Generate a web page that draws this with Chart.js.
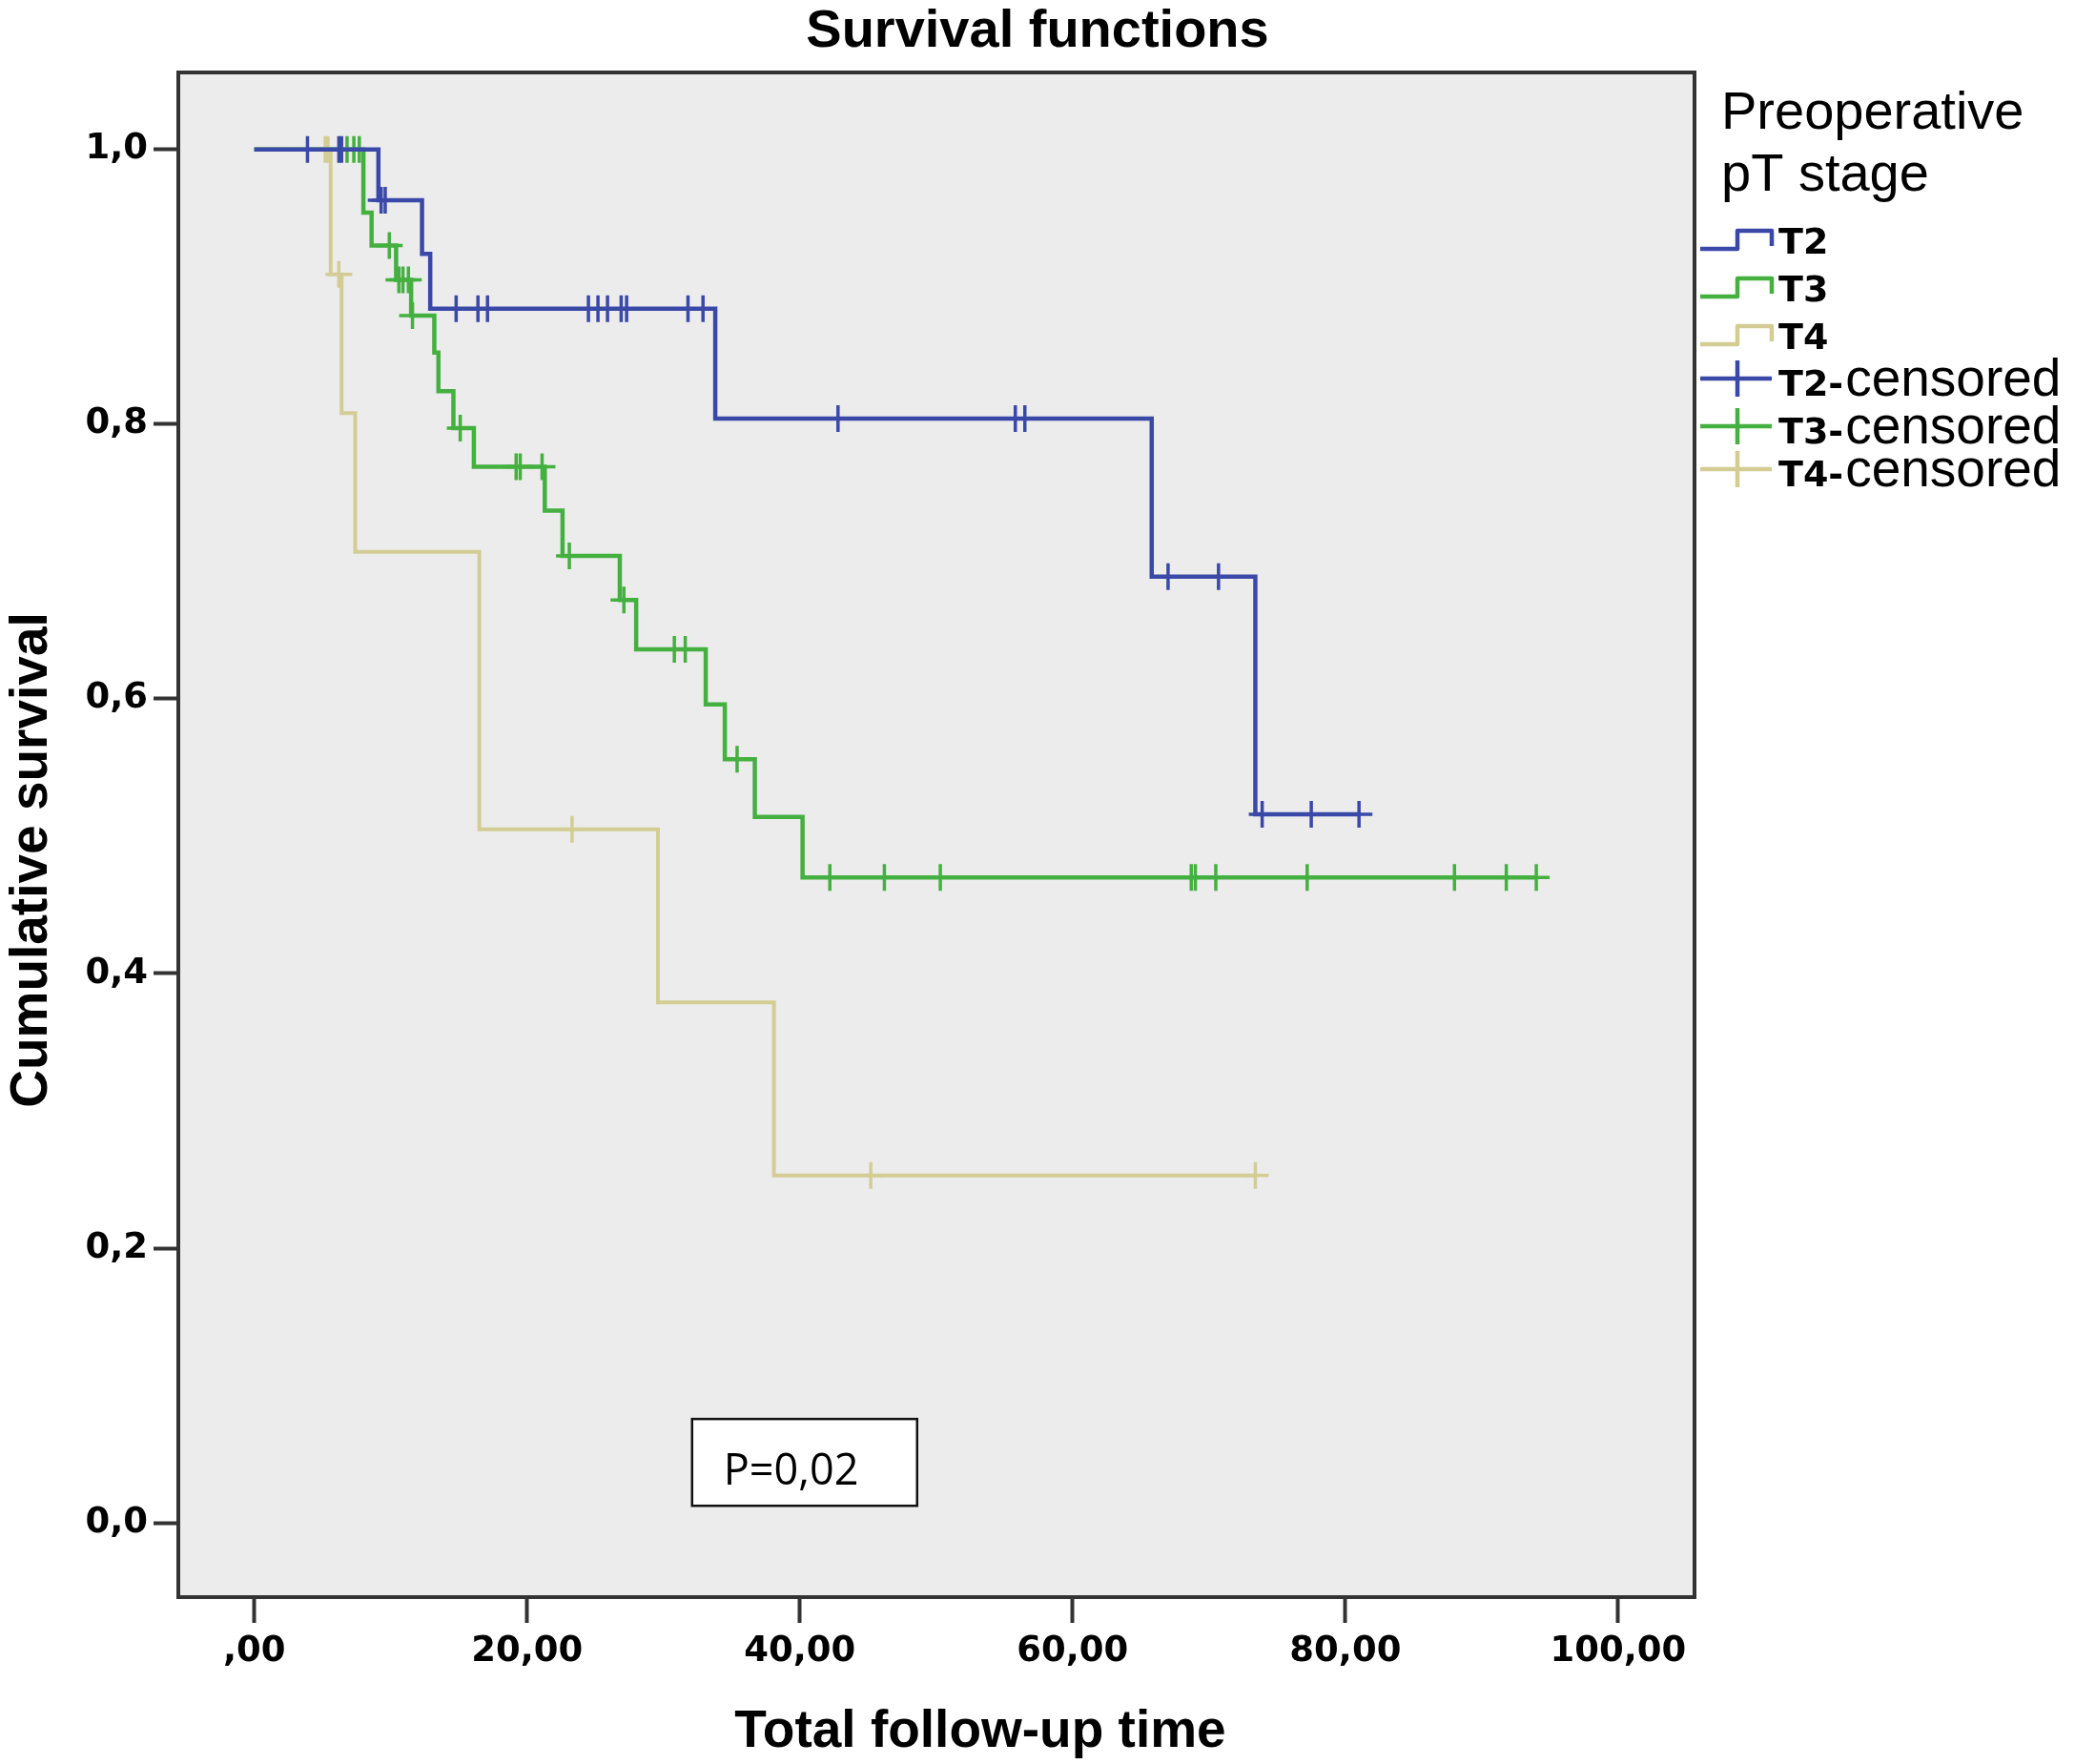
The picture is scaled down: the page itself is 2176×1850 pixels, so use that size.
<!DOCTYPE html>
<html>
<head>
<meta charset="utf-8">
<script src="https://cdn.jsdelivr.net/npm/chart.js@4.4.1/dist/chart.umd.min.js"></script>
<style>
  html, body { margin: 0; padding: 0; background: #ffffff; }
  #wrap { width: 2176px; height: 1850px; position: relative; }
</style>
</head>
<body>
<div id="wrap"><canvas id="c" width="2176" height="1850"></canvas></div>
<script>
// ---------------- DATA ----------------
const groups = ['T2', 'T3', 'T4'];

// T2: event times and survival after each step, censored times
const T2_eventTimes = [9.1, 12.3, 12.9, 33.8, 65.8, 73.4];
const T2_survival   = [0.963, 0.924, 0.884, 0.804, 0.689, 0.516];
const T2_censored   = [3.9, 6.2, 6.4, 9.3, 9.6, 14.8, 16.4, 17.1, 24.5, 25.2, 25.9, 26.9, 27.3,
                       31.8, 32.9, 42.8, 55.8, 56.5, 67.0, 70.7, 73.9, 77.5, 81.0];

// T3
const T3_eventTimes = [8.0, 8.6, 10.4, 11.5, 13.2, 13.5, 14.6, 16.1, 21.3, 22.6, 26.8, 28.0, 33.1, 34.5, 36.7, 40.2];
const T3_survival   = [0.954, 0.930, 0.905, 0.879, 0.852, 0.824, 0.797, 0.769, 0.737, 0.704, 0.672, 0.636, 0.596, 0.556, 0.514, 0.470];
const T3_censored   = [6.8, 7.3, 7.7, 9.9, 10.6, 10.9, 11.3, 11.6, 15.1, 19.2, 19.5, 21.1, 23.1, 27.1,
                       30.8, 31.6, 35.4, 42.2, 46.2, 50.3, 68.7, 69.0, 70.5, 77.2, 88.0, 91.8, 94.0];

// T4
const T4_eventTimes = [5.6, 6.4, 7.4, 16.5, 29.6, 38.1];
const T4_survival   = [0.909, 0.808, 0.707, 0.505, 0.379, 0.253];
const T4_censored   = [5.2, 5.4, 6.2, 23.3, 45.2, 73.4];

// Axis ticks
const xTickValues = [0, 20, 40, 60, 80, 100];
const xTickLabels = [',00', '20,00', '40,00', '60,00', '80,00', '100,00'];
const yTickValues = [0, 0.2, 0.4, 0.6, 0.8, 1.0];
const yTickLabels = ['0,0', '0,2', '0,4', '0,6', '0,8', '1,0'];

const chartTitle = 'Survival functions';
const xTitle = 'Total follow-up time';
const yTitle = 'Cumulative survival';
const legendTitle = ['Preoperative', 'pT stage'];
const pValueText = 'P=0,02';

// ---------------- STYLES ----------------
const colors = { T2: '#3a48a8', T3: '#44b040', T4: '#d3cd94' };
const lineWidths = { T2: 4.5, T3: 4.5, T4: 4 };

// ---------------- HELPERS ----------------
function survivalAt(times, surv, t) {
  let s = 1;
  for (let i = 0; i < times.length; i++) if (times[i] <= t) s = surv[i];
  return s;
}
function stepPoints(times, surv, censored) {
  const pts = [{ x: 0, y: 1 }];
  times.forEach((t, i) => pts.push({ x: t, y: surv[i] }));
  const end = Math.max(times[times.length - 1], ...censored);
  pts.push({ x: end, y: survivalAt(times, surv, end) });
  return pts;
}
function censorPoints(times, surv, censored) {
  return censored.map(t => ({ x: t, y: survivalAt(times, surv, t) }));
}

const series = {
  T2: { times: T2_eventTimes, surv: T2_survival, cens: T2_censored },
  T3: { times: T3_eventTimes, surv: T3_survival, cens: T3_censored },
  T4: { times: T4_eventTimes, surv: T4_survival, cens: T4_censored }
};

const datasets = [];
groups.forEach(g => {
  const s = series[g];
  datasets.push({
    label: g + '-censored',
    data: censorPoints(s.times, s.surv, s.cens),
    showLine: false,
    pointStyle: 'cross',
    pointRadius: 14,
    pointHoverRadius: 14,
    borderWidth: 3.5,
    pointBorderColor: colors[g],
    borderColor: colors[g],
    backgroundColor: colors[g]
  });
  datasets.push({
    label: g,
    data: stepPoints(s.times, s.surv, s.cens),
    showLine: true,
    stepped: true,
    pointRadius: 0,
    pointHoverRadius: 0,
    borderWidth: lineWidths[g],
    borderColor: colors[g],
    backgroundColor: colors[g],
    fill: false
  });
});

// ---------------- DECORATION PLUGIN ----------------
const decor = {
  id: 'decor',
  beforeDraw(chart) {
    const { ctx, chartArea: a } = chart;
    ctx.save();
    ctx.fillStyle = '#ececec';
    ctx.fillRect(a.left, a.top, a.right - a.left, a.bottom - a.top);
    ctx.restore();
  },
  afterDatasetsDraw(chart) {
    const { ctx, chartArea: a, scales } = chart;
    ctx.save();
    // P-value box (placed in data coordinates)
    const bx0 = scales.x.getPixelForValue(32.1), bx1 = scales.x.getPixelForValue(48.6);
    const by0 = scales.y.getPixelForValue(0.0757), by1 = scales.y.getPixelForValue(0.0125);
    ctx.fillStyle = '#ffffff';
    ctx.fillRect(bx0, by0, bx1 - bx0, by1 - by0);
    ctx.strokeStyle = '#111';
    ctx.lineWidth = 2.5;
    ctx.strokeRect(bx0, by0, bx1 - bx0, by1 - by0);
    ctx.fillStyle = '#000';
    ctx.font = '45px "Open Sans", "Liberation Sans", sans-serif';
    ctx.textAlign = 'left';
    ctx.textBaseline = 'alphabetic';
    ctx.fillText(pValueText, bx0 + 33, by0 + 69);
    // frame
    ctx.strokeStyle = '#333';
    ctx.lineWidth = 4;
    ctx.strokeRect(a.left, a.top, a.right - a.left, a.bottom - a.top);
    ctx.restore();
  },
  afterDraw(chart) {
    const { ctx } = chart;
    ctx.save();
    ctx.fillStyle = '#000';
    ctx.textBaseline = 'alphabetic';
    // chart title
    ctx.font = 'bold 56px "Liberation Sans", Arial, sans-serif';
    ctx.textAlign = 'center';
    ctx.fillText(chartTitle, 1088, 49);
    // x axis title
    ctx.font = 'bold 55px "Liberation Sans", Arial, sans-serif';
    ctx.fillText(xTitle, 1028, 1832);
    // y axis title
    ctx.save();
    ctx.translate(49, 902);
    ctx.rotate(-Math.PI / 2);
    ctx.fillText(yTitle, 0, 0);
    ctx.restore();

    // legend
    ctx.textAlign = 'left';
    ctx.font = '56px "Liberation Sans", Arial, sans-serif';
    ctx.fillText(legendTitle[0], 1805, 135);
    ctx.fillText(legendTitle[1], 1805, 200);

    const symX0 = 1783, symXm = 1822, symX1 = 1858, textX = 1865;
    const stepRows = [266, 316, 366];
    const censRows = [415, 465, 510];
    groups.forEach((g, i) => {
      const b = stepRows[i];
      ctx.strokeStyle = colors[g];
      ctx.lineWidth = 4.5;
      ctx.lineJoin = 'round';
      ctx.beginPath();
      ctx.moveTo(symX0, b - 5);
      ctx.lineTo(symXm, b - 5);
      ctx.lineTo(symXm, b - 24);
      ctx.lineTo(symX1, b - 24);
      ctx.lineTo(symX1, b - 8);
      ctx.stroke();
      ctx.fillStyle = '#000';
      ctx.font = 'bold 38px "DejaVu Sans", Verdana, sans-serif';
      ctx.fillText(g, textX, b);
    });
    groups.forEach((g, i) => {
      const b = censRows[i];
      ctx.strokeStyle = colors[g];
      ctx.lineWidth = 4.5;
      ctx.beginPath();
      ctx.moveTo(symX0, b - 18);
      ctx.lineTo(symX1, b - 18);
      ctx.moveTo(symXm, b - 37);
      ctx.lineTo(symXm, b + 1);
      ctx.stroke();
      ctx.fillStyle = '#000';
      ctx.font = 'bold 38px "DejaVu Sans", Verdana, sans-serif';
      const pre = g + '-';
      ctx.fillText(pre, textX, b);
      const w = ctx.measureText(pre).width;
      ctx.font = '55px "Liberation Sans", Arial, sans-serif';
      ctx.fillText('censored', textX + w + 2, b);
    });
    ctx.restore();
  }
};

// ---------------- CHART ----------------
const tickFont = { family: '"DejaVu Sans", Verdana, sans-serif', size: 37, weight: 'bold' };

new Chart(document.getElementById('c'), {
  type: 'scatter',
  data: { datasets },
  options: {
    responsive: false,
    animation: false,
    devicePixelRatio: 1,
    events: [],
    layout: { padding: { top: 76, right: 399, bottom: 0, left: 0 } },
    plugins: {
      legend: { display: false },
      tooltip: { enabled: false },
      title: { display: false }
    },
    scales: {
      x: {
        type: 'linear',
        min: -5.57,
        max: 105.6,
        border: { display: false },
        grid: { drawOnChartArea: false, drawTicks: true, tickLength: 27, tickWidth: 4, tickColor: '#333', color: '#333' },
        ticks: {
          color: '#000',
          font: tickFont,
          padding: 8,
          maxRotation: 0,
          autoSkip: false,
          callback: (v, i) => xTickLabels[i]
        },
        afterBuildTicks: s => { s.ticks = xTickValues.map(v => ({ value: v })); },
        afterFit: s => { s.height = 175; }
      },
      y: {
        type: 'linear',
        min: -0.054,
        max: 1.056,
        border: { display: false },
        grid: { drawOnChartArea: false, drawTicks: true, tickLength: 26, tickWidth: 4, tickColor: '#333', color: '#333' },
        ticks: {
          color: '#000',
          font: tickFont,
          padding: 6,
          autoSkip: false,
          callback: (v, i) => yTickLabels[i]
        },
        afterBuildTicks: s => { s.ticks = yTickValues.map(v => ({ value: v })); },
        afterFit: s => { s.width = 187; }
      }
    }
  },
  plugins: [decor]
});
</script>
</body>
</html>
